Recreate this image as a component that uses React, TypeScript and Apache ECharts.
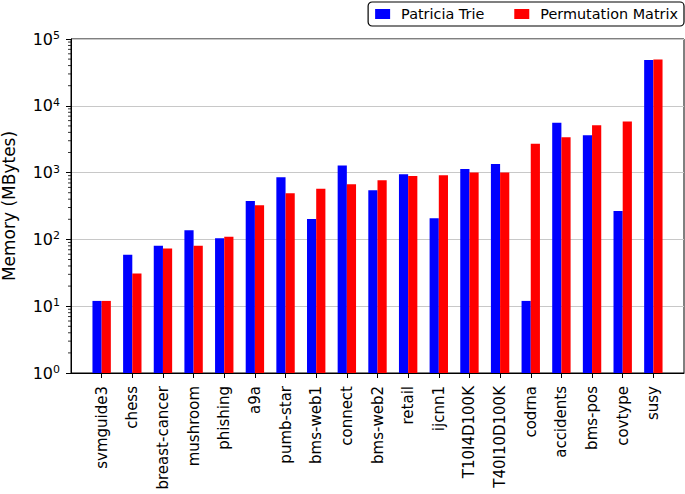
import React, { useEffect, useRef } from "react";
import * as echarts from "echarts";

const categories = [
  "svmguide3", "chess", "breast-cancer", "mushroom", "phishing", "a9a",
  "pumb-star", "bms-web1", "connect", "bms-web2", "retail", "ijcnn1",
  "T10I4D100K", "T40I10D100K", "codrna", "accidents", "bms-pos", "covtype", "susy",
];
const patriciaTrie = [12, 59, 80, 137, 104, 376, 852, 202, 1273, 544, 946, 207, 1136, 1350, 12, 5560, 3630, 266, 48500];
const permutationMatrix = [12, 31, 73, 80, 110, 324, 491, 575, 670, 769, 892, 915, 1000, 1000, 2700, 3390, 5130, 5820, 49500];
const decades = [0, 1, 2, 3, 4];
const minorMultipliers = [2, 3, 4, 5, 6, 7, 8, 9];

const FONT = "DejaVu Sans";
const GRID_LEFT = 71;

export default function App() {
  const ref = useRef<HTMLDivElement>(null);
  useEffect(() => {
    if (!ref.current) return;
    const chart = echarts.init(ref.current, undefined, { renderer: "svg" });
    const xData = ["", ...categories, ""];
    const pad = (a: number[]) => [null, ...a, null];
    const last = xData.length - 1;
    chart.setOption({
      animation: false,
      backgroundColor: "#fff",
      textStyle: { fontFamily: FONT },
      grid: {
        left: GRID_LEFT, right: 1, top: 39, bottom: 121,
        containLabel: false,
        outerBoundsMode: "none",
        show: true, borderColor: "#000", borderWidth: 1, backgroundColor: "transparent",
      },
      legend: {
        data: ["Patricia Trie", "Permutation Matrix"],
        right: 1, top: 2,
        icon: "rect", itemWidth: 15, itemHeight: 10, itemGap: 30,
        borderColor: "#000", borderWidth: 1.2, borderRadius: 4,
        padding: [5, 6, 5, 7],
        backgroundColor: "#fff",
        textStyle: { fontFamily: FONT, fontSize: 14.4, color: "#000", padding: [0, 0, 0, 6] },
      },
      xAxis: {
        type: "category",
        data: xData,
        boundaryGap: false,
        axisLine: { lineStyle: { color: "#000", width: 1 } },
        axisTick: {
          show: true, length: 5, inside: false,
          interval: (i: number) => i > 0 && i < last,
          lineStyle: { color: "#000" },
        },
        axisLabel: {
          interval: 0, rotate: 90, margin: 13,
          fontFamily: FONT, fontSize: 15, color: "#000",
        },
        splitLine: { show: false },
      },
      yAxis: {
        type: "log",
        logBase: 10,
        min: 1, max: 100000,
        name: "Memory (MBytes)",
        nameLocation: "middle",
        nameGap: 54,
        nameTextStyle: { fontFamily: FONT, fontSize: 17, color: "#000" },
        axisLine: { show: true, lineStyle: { color: "#000", width: 1 } },
        axisTick: { show: true, length: 5, inside: false, lineStyle: { color: "#000" } },
        splitLine: { show: true, lineStyle: { color: "#c8c8c8", width: 1 } },
        axisLabel: {
          margin: 11,
          showMinLabel: true, showMaxLabel: true,
          formatter: (v: number) => `{b|10}{s|${Math.round(Math.log10(v))}}`,
          rich: {
            b: { fontFamily: FONT, fontSize: 16, color: "#000", lineHeight: 18 },
            s: { fontFamily: FONT, fontSize: 11, color: "#000", verticalAlign: "top", lineHeight: 12 },
          },
        },
      },
      series: [
        {
          name: "Patricia Trie",
          type: "bar",
          data: pad(patriciaTrie),
          barWidth: "30%",
          barGap: "0%",
          itemStyle: { color: "#0000ff" },
        },
        {
          name: "Permutation Matrix",
          type: "bar",
          data: pad(permutationMatrix),
          barWidth: "30%",
          barGap: "0%",
          itemStyle: { color: "#ff0000" },
        },
      ],
    });
    // minor log ticks (2..9 × 10^k) placed through the axis scale
    const minor: any[] = [];
    decades.forEach((k) => {
      minorMultipliers.forEach((m) => {
        const y = chart.convertToPixel({ yAxisIndex: 0 }, m * Math.pow(10, k)) as number;
        minor.push({
          type: "line",
          silent: true,
          shape: { x1: GRID_LEFT - 3, y1: y, x2: GRID_LEFT, y2: y },
          style: { stroke: "#000", lineWidth: 0.8 },
        });
      });
    });
    chart.setOption({ graphic: minor });
    return () => chart.dispose();
  }, []);
  return (
    <div
      ref={ref}
      style={{ position: "fixed", left: 0, top: 0, width: 685, height: 494 }}
    />
  );
}
